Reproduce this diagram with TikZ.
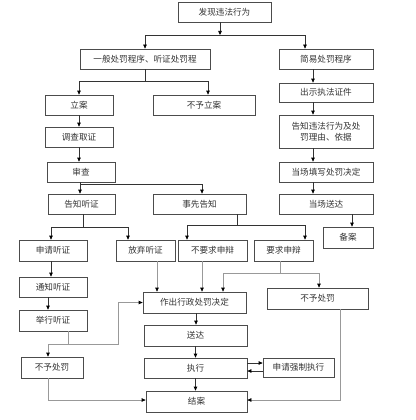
\documentclass[tikz,border=0pt]{standalone}
\usepackage{fontspec}
\setmainfont{Noto Sans CJK SC}
\usetikzlibrary{arrows.meta}

\begin{document}
\begin{tikzpicture}[x=1pt, y=-1pt,
		box/.style={draw=black!70, line width=0.7pt, inner sep=0pt, minimum height=20, text=black!80, font=\fontsize{8.6}{11.5}\selectfont, align=center},
		flow/.style={draw=black!80, line width=0.7pt, -{Triangle[length=4pt, width=3.5pt, black]}},
		light/.style={draw=black!40, line width=0.7pt, -{Triangle[length=4pt, width=3.5pt, black]}},
		lightline/.style={draw=black!40, line width=0.7pt}]
	\useasboundingbox (0, 0) rectangle (415, 420);
	% top of the chart
	\node (find) at (224.5, 12) [box, minimum width=93] {发现违法行为};
	\node (gen) at (145, 59) [box, minimum width=130] {一般处罚程序、听证处罚程};
	\node (simple) at (326, 59) [box, minimum width=94] {简易处罚程序};
	\coordinate (j1) at (220, 35);
	\draw [flow] ([xshift=-4.5pt]find.south) -- (j1);
	\draw [flow] (j1) -| (gen.north);
	\draw [flow] (j1) -| ([xshift=-21pt]simple.north);
	% simple procedure
	\node (show) at (326, 92.5) [box, minimum width=94, minimum height=19] {出示执法证件};
	\node (tell) at (326, 131.5) [box, minimum width=94, minimum height=33] {告知违法行为及处\\罚理由、依据};
	\node (fill) at (326, 172) [box, minimum width=94] {当场填写处罚决定};
	\node (spot) at (326, 204) [box, minimum width=94] {当场送达};
	\node (record) at (348, 237.5) [box, minimum width=50, minimum height=21] {备案};
	\draw [flow] ([xshift=-13pt]simple.south) -- ([xshift=-13pt]simple.south |- show.north);
	\draw [flow] ([xshift=-13pt]show.south) -- ([xshift=-13pt]show.south |- tell.north);
	\draw [flow] ([xshift=-13pt]tell.south) -- ([xshift=-13pt]tell.south |- fill.north);
	\draw [flow] ([xshift=-13pt]fill.south) -- ([xshift=-13pt]fill.south |- spot.north);
	\draw [flow] ([xshift=26pt]spot.south) -- ([xshift=26pt]spot.south |- record.north);
	% general procedure
	\node (lian) at (79, 105) [box, minimum width=68] {立案};
	\node (nolian) at (204, 105) [box, minimum width=102] {不予立案};
	\node (survey) at (79, 137) [box, minimum width=68] {调查取证};
	\node (review) at (81, 172) [box, minimum width=68] {审查};
	\coordinate (j2) at (145, 81);
	\draw [flow, -] (gen.south) -- (j2);
	\draw [flow] (j2) -| (lian.north);
	\draw [flow] (j2) -| ([xshift=4pt]nolian.north);
	\draw [flow] (lian.south) -- (survey.north);
	\draw [flow] (survey.south) -- (survey.south |- review.north);
	\node (notice) at (81.5, 204) [box, minimum width=67] {告知听证};
	\node (prior) at (199.5, 204) [box, minimum width=93] {事先告知};
	\coordinate (j3) at (80, 184);
	\draw [flow, -] (review.south -| j3) -- (j3);
	\draw [flow] (j3) -- (j3 |- notice.north);
	\draw [flow] (j3) -| ([xshift=2.5pt]prior.north);
	% hearing and statement
	\node (apply) at (53, 250.5) [box, minimum width=68, minimum height=21] {申请听证};
	\node (waive) at (145.5, 250.5) [box, minimum width=59, minimum height=21] {放弃听证};
	\node (noreq) at (212.5, 250.5) [box, minimum width=69, minimum height=21] {不要求申辩};
	\node (req) at (283.5, 250.5) [box, minimum width=59, minimum height=21] {要求申辩};
	\coordinate (j4) at (83, 227);
	\coordinate (j5) at (237, 225);
	\draw [flow, -] ([xshift=1.5pt]notice.south) -- (j4);
	\draw [flow] (j4) -| ([xshift=-2pt]apply.north);
	\draw [flow] (j4) -| ([xshift=-17.5pt]waive.north);
	\draw [flow, -] ([xshift=37.5pt]prior.south) -- (j5);
	\draw [flow] (j5) -| ([xshift=-25.5pt]noreq.north);
	\draw [flow] (j5) -| ([xshift=21.5pt]req.north);
	\node (inform) at (53, 287) [box, minimum width=68] {通知听证};
	\node (hold) at (53, 320.5) [box, minimum width=68, minimum height=21] {举行听证};
	\node (nopenl) at (52, 367.5) [box, minimum width=62, minimum height=21] {不予处罚};
	\draw [flow] ([xshift=-2pt]apply.south) -- ([xshift=-2pt]apply.south |- inform.north);
	\draw [flow] ([xshift=-5pt]inform.south) -- ([xshift=-5pt]inform.south |- hold.north);
	% decision
	\node (decide) at (194.5, 302.5) [box, minimum width=103, minimum height=21] {作出行政处罚决定};
	\node (nopenr) at (317.5, 298.5) [box, minimum width=101, minimum height=21] {不予处罚};
	\node (send) at (195.5, 335.5) [box, minimum width=103, minimum height=21] {送达};
	\node (exec) at (195.5, 368) [box, minimum width=103] {执行};
	\node (force) at (298.5, 367.5) [box, minimum width=71, minimum height=19] {申请强制执行};
	\node (close) at (196.5, 401.5) [box, minimum width=101, minimum height=21] {结案};
	\coordinate (j6) at (68, 344);
	\coordinate (j7) at (280, 273);
	\draw [lightline] ([xshift=15pt]hold.south) -- (j6);
	\draw [light] (j6) -| ([xshift=-4pt]nopenl.north);
	\draw [light] (j6) -- (118, 344) |- (decide.west);
	\draw [light] ([xshift=11.5pt]waive.south) -- ([xshift=11.5pt]waive.south |- decide.north);
	\draw [light] ([xshift=-10.5pt]noreq.south) -- ([xshift=-10.5pt]noreq.south |- decide.north);
	\draw [lightline] ([xshift=-3.5pt]req.south) -- (j7);
	\draw [light] (j7) -| ([xshift=28.5pt]decide.north);
	\draw [light] (j7) -| ([xshift=1.5pt]nopenr.north);
	\draw [flow] ([xshift=1.5pt]decide.south) -- ([xshift=1.5pt]decide.south |- send.north);
	\draw [flow] (send.south -| exec) -- (exec.north);
	\draw [flow] (exec.south) -- (exec.south |- close.north);
	\draw [flow] ([yshift=5pt]exec.east) -- ([yshift=5pt]exec.east -| force.west);
	\draw [flow] ([yshift=-3.5pt]force.west) -- ([yshift=-3.5pt]force.west -| exec.east);
	\draw [light] ([xshift=-4pt]nopenl.south) |- ([yshift=1.5pt]close.west);
	\draw [light] ([xshift=22.5pt]nopenr.south) |- ([yshift=1.5pt]close.east);
\end{tikzpicture}
\end{document}
